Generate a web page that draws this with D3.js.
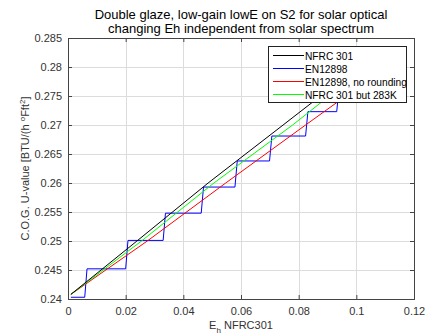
<!DOCTYPE html>
<html>
<head>
<meta charset="utf-8">
<script src="https://cdn.jsdelivr.net/npm/d3@7"></script>
<style>
  body { margin: 0; background: #fff; }
  text { font-family: "Liberation Sans", Arial, sans-serif; }
</style>
</head>
<body>
<div id="chart"></div>
<script>
// data (Eh, U-value)
const nfrcX = [0.001, 0.0239, 0.0486, 0.0746, 0.1];
const nfrcY = [0.2408, 0.25, 0.26, 0.27, 0.2798];
const enX = [0.001, 0.0058, 0.0066, 0.0200, 0.0208, 0.0330, 0.0338, 0.0462, 0.0470, 0.0579, 0.0587, 0.0699, 0.0707, 0.0824, 0.0832, 0.0932, 0.0940, 0.1];
const enY = [0.2403, 0.2403, 0.2452, 0.2452, 0.2501, 0.2501, 0.2548, 0.2548, 0.2593, 0.2593, 0.2638, 0.2638, 0.2681, 0.2681, 0.2723, 0.2723, 0.2765, 0.2765];
const enRawX = [0.001, 0.0275, 0.0547, 0.0824, 0.1];
const enRawY = [0.2408, 0.25, 0.26, 0.27, 0.2763];
const nfrc283X = [0.001, 0.0255, 0.0506, 0.0779, 0.1];
const nfrc283Y = [0.2408, 0.25, 0.26, 0.27, 0.2787];

const xTicks = [0, 0.02, 0.04, 0.06, 0.08, 0.1, 0.12];
const yTicks = [0.24, 0.245, 0.25, 0.255, 0.26, 0.265, 0.27, 0.275, 0.28, 0.285];
const seriesNames = ['NFRC 301', 'EN12898', 'EN12898, no rounding', 'NFRC 301 but 283K'];
const seriesColors = ['#000000', '#0000ff', '#ff0000', '#00ff00'];
const titleLines = ['Double glaze, low-gain lowE on S2 for solar optical', 'changing Eh independent from solar spectrum'];

const W = 435, H = 336;
const margin = { top: 38, right: 21, bottom: 37, left: 68 };
const width = W - margin.left - margin.right;
const height = H - margin.top - margin.bottom;

const svg = d3.select('#chart').append('svg').attr('width', W).attr('height', H);

const x = d3.scaleLinear().domain([0, 0.12]).range([0, width]);
const y = d3.scaleLinear().domain([0.24, 0.285]).range([height, 0]);

const g = svg.append('g').attr('transform', 'translate(' + margin.left + ',' + margin.top + ')');

g.append('rect').attr('width', width).attr('height', height).attr('fill', '#fff');

// grid
g.selectAll('.gx').data(xTicks).enter().append('line')
  .attr('x1', d => Math.round(x(d)) + 0.5).attr('x2', d => Math.round(x(d)) + 0.5)
  .attr('y1', 0).attr('y2', height)
  .attr('stroke', '#dcdcdc');
g.selectAll('.gy').data(yTicks).enter().append('line')
  .attr('y1', d => Math.round(y(d)) + 0.5).attr('y2', d => Math.round(y(d)) + 0.5)
  .attr('x1', 0).attr('x2', width)
  .attr('stroke', '#dcdcdc');

const clip = svg.append('defs').append('clipPath').attr('id', 'clip')
  .append('rect').attr('width', width).attr('height', height);

const plot = g.append('g').attr('clip-path', 'url(#clip)');
const line = d3.line().x(d => x(d[0])).y(d => y(d[1]));
const series = [
  d3.zip(nfrcX, nfrcY),
  d3.zip(enX, enY),
  d3.zip(enRawX, enRawY),
  d3.zip(nfrc283X, nfrc283Y)
];
// draw order: EN12898 first, then the smooth lines
[1, 2, 3, 0].forEach(i => {
  plot.append('path').datum(series[i])
    .attr('d', line)
    .attr('fill', 'none')
    .attr('stroke', seriesColors[i])
    .attr('stroke-width', 1);
});

// axes, matlab style ticks pointing inward
const tickColor = '#444';
const xAxis = d3.axisBottom(x).tickValues(xTicks).tickSize(-4).tickPadding(8).tickFormat(d3.format('~g'));
const yAxis = d3.axisLeft(y).tickValues(yTicks).tickSize(-4).tickPadding(6).tickFormat(d3.format('~g'));
const gx = g.append('g').attr('transform', 'translate(0,' + height + ')').call(xAxis);
const gy = g.append('g').call(yAxis);
const gx2 = g.append('g').call(d3.axisTop(x).tickValues(xTicks).tickSize(-4).tickFormat(''));
const gy2 = g.append('g').attr('transform', 'translate(' + width + ',0)').call(d3.axisRight(y).tickValues(yTicks).tickSize(-4).tickFormat(''));
[gx, gy, gx2, gy2].forEach(a => {
  a.select('.domain').attr('stroke', tickColor);
  a.selectAll('.tick line').attr('stroke', tickColor);
  a.selectAll('.tick text').attr('fill', '#333').style('font-size', '11px')
    .style('font-family', '"Liberation Sans", Arial, sans-serif');
});

// title
svg.append('g').selectAll('text').data(titleLines).enter().append('text')
  .attr('x', margin.left + width / 2)
  .attr('y', (d, i) => 19 + i * 14)
  .attr('text-anchor', 'middle')
  .style('font-size', '13px')
  .attr('fill', '#000')
  .text(d => d);

// x label
const xl = svg.append('text')
  .attr('x', margin.left + width / 2)
  .attr('y', 329)
  .attr('text-anchor', 'middle')
  .attr('fill', '#333')
  .style('font-size', '11px');
xl.append('tspan').text('E');
xl.append('tspan').attr('dy', 4).style('font-size', '8px').text('h');
xl.append('tspan').attr('dy', -4).text(' NFRC301');

// y label
const yl = svg.append('text')
  .attr('transform', 'translate(29,' + (margin.top + height / 2) + ') rotate(-90)')
  .attr('text-anchor', 'middle')
  .attr('fill', '#333')
  .style('font-size', '11px');
yl.append('tspan').text('C.O.G. U-value [BTU/(h ');
yl.append('tspan').attr('dy', -4).style('font-size', '8px').text('o');
yl.append('tspan').attr('dy', 4).text('Fft');
yl.append('tspan').attr('dy', -4).style('font-size', '8px').text('2');
yl.append('tspan').attr('dy', 4).text(']');

// legend
const lg = svg.append('g').attr('transform', 'translate(268,46)');
lg.append('rect').attr('x', 0.5).attr('y', 0.5).attr('width', 138).attr('height', 56)
  .attr('fill', '#fff').attr('stroke', '#222');
seriesNames.forEach((name, i) => {
  const ly = 9.5 + i * 13;
  lg.append('line').attr('x1', 5).attr('x2', 36).attr('y1', ly).attr('y2', ly)
    .attr('stroke', seriesColors[i]).attr('stroke-width', 1);
  lg.append('text').attr('x', 37).attr('y', ly + 4)
    .style('font-size', '10.2px').attr('fill', '#000').text(name);
});
</script>
</body>
</html>
